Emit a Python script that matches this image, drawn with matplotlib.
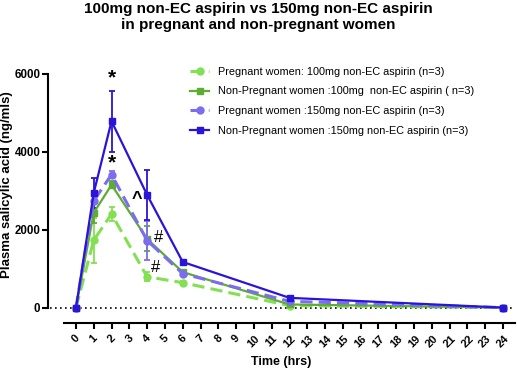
import matplotlib
matplotlib.use("Agg")
import matplotlib.pyplot as plt
from matplotlib.lines import Line2D

plt.rcParams['font.family'] = ['Liberation Sans', 'DejaVu Sans']

hours = [0, 1, 2, 4, 6, 12, 24]

# mean and error (ng/mls)
preg_100 = [0, 1740, 2410, 800, 650, 60, 10]
preg_100_err = [0, 580, 170, 110, 40, 20, 0]
nonpreg_100 = [0, 2440, 3160, 1770, 920, 90, 10]
nonpreg_100_err = [0, 260, 90, 320, 60, 20, 0]
preg_150 = [0, 2750, 3420, 1730, 880, 170, 10]
preg_150_err = [0, 180, 90, 500, 50, 20, 0]
nonpreg_150 = [0, 2950, 4790, 2900, 1180, 260, 10]
nonpreg_150_err = [0, 380, 780, 640, 40, 30, 0]

series = [
    ("Pregnant women: 100mg non-EC aspirin (n=3)", preg_100, preg_100_err, "#82e052", "o", "--"),
    ("Non-Pregnant women :100mg  non-EC aspirin ( n=3)", nonpreg_100, nonpreg_100_err, "#5cad31", "s", "-"),
    ("Pregnant women :150mg non-EC aspirin (n=3)", preg_150, preg_150_err, "#7b6cf0", "o", "--"),
    ("Non-Pregnant women :150mg non-EC aspirin (n=3)", nonpreg_150, nonpreg_150_err, "#2a14d8", "s", "-"),
]

# significance marks: (hour, level, text)
marks = [(2, 5900, "*"), (2, 3720, "*"), (3.45, 2780, "^"), (4.65, 1800, "#"), (4.45, 1040, "#")]

fig = plt.figure(figsize=(5.17, 3.70), dpi=100)
ax = fig.add_axes([48/517, 1-323/370, 467/517, 249/370])

handles = []
for label, y, e, c, m, ls in series:
    lw = 1.6 if ls == "-" else 2.2
    dashes = (4, 2) if ls == "--" else (None, None)
    ax.errorbar(hours, y, yerr=e, color=c, marker=m, markersize=5, linestyle=ls,
                linewidth=lw, dashes=dashes, elinewidth=1.3, capsize=2.5, capthick=1.3)
    handles.append(Line2D([], [], color=c, marker=m, markersize=5, linestyle=ls,
                          linewidth=lw, dashes=dashes, label=label))

ax.axhline(0, xmin=0.005, color="black", linestyle=(0, (1, 2)), linewidth=1.2, zorder=0)

for x, yv, t in marks:
    if t == "*":
        ax.text(x, yv, t, fontsize=15, fontweight="bold", ha="center", va="center")
    elif t == "^":
        ax.text(x, yv, t, fontsize=13, fontweight="bold", ha="center", va="center")
    else:
        ax.text(x, yv, t, fontsize=12, ha="center", va="center")

ax.set_xlim(-1.57, 24.67)
ax.set_ylim(-385, 6000)
for s in ["top", "right"]:
    ax.spines[s].set_visible(False)
ax.spines["left"].set_bounds(0, 6000)
ax.spines["bottom"].set_bounds(-0.67, 24.67)
for s in ["left", "bottom"]:
    ax.spines[s].set_linewidth(1.5)

ax.set_xticks(range(0, 25))
ax.set_xticklabels([str(i) for i in range(0, 25)], rotation=45, ha="center",
                   fontsize=8, fontweight="bold")
ax.set_yticks([0, 2000, 4000, 6000])
ax.set_yticklabels(["0", "2000", "4000", "6000"], fontsize=8.3, fontweight="bold")
ax.tick_params(width=1.5, length=4)
ax.tick_params(axis="y", pad=1.5)

ax.set_xlabel("Time (hrs)", fontsize=9, fontweight="bold", labelpad=5)
ax.set_ylabel("Plasma salicylic acid (ng/mls)", fontsize=9.5, fontweight="bold")
ax.yaxis.set_label_coords(-35/467, 0.555)

fig.suptitle("100mg non-EC aspirin vs 150mg non-EC aspirin\nin pregnant and non-pregnant women",
             fontsize=11, fontweight="bold", y=0.995, x=0.5)

fig.legend(handles=handles, loc="upper left", bbox_to_anchor=(180/517, 1-57/370),
           frameon=False, fontsize=7.8, handlelength=1.8, labelspacing=0.9)

fig.savefig("out.png", dpi=100)
